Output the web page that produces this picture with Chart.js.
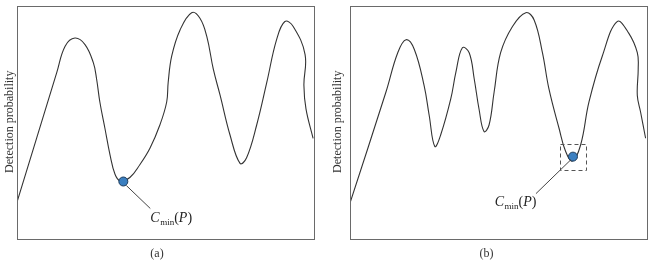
<!DOCTYPE html>
<html>
<head>
<meta charset="utf-8">
<script src="https://cdn.jsdelivr.net/npm/chart.js@4.4.1/dist/chart.umd.min.js"></script>
<style>
  html, body { margin: 0; padding: 0; background: #fff; }
  #wrap { position: relative; width: 652px; height: 263px; }
  canvas { position: absolute; top: 0; }
  #ca { left: 0; }
  #cb { left: 326px; }
</style>
</head>
<body>
<div id="wrap">
  <canvas id="ca" width="326" height="263"></canvas>
  <canvas id="cb" width="326" height="263"></canvas>
</div>
<script>
// ---- Data (axis units 0..100) ----
const captions = ['(a)', '(b)'];
const yAxisLabel = 'Detection probability';

const curveAX = [0, 13.4, 16.2, 19.5, 22.9, 25.7, 26.8, 27.9, 29.6, 31.3, 33.0, 34.7, 38.0, 41.4, 44.8, 48.1, 50.4, 50.9, 52.1, 54.9, 58.8, 61.6, 63.9, 66.1, 68.4, 71.7, 75.1, 77.3, 80.7, 84.1, 87.4, 90.2, 93.0, 97.0, 96.6, 97.3, 99.7];
const curveAY = [15.4, 71.2, 82.5, 86.0, 83.2, 75.4, 68.4, 58.5, 47.2, 35.9, 27.4, 24.6, 26.0, 31.6, 38.7, 48.6, 58.5, 66.9, 78.3, 89.5, 96.9, 94.5, 86.7, 72.6, 61.3, 44.4, 32.1, 34.5, 48.6, 66.9, 85.3, 93.1, 91.0, 78.9, 65.7, 55.5, 42.8];

const curveBX = [0.1, 12.1, 16.1, 18.9, 21.7, 25.0, 26.7, 28.6, 30.6, 34.0, 35.7, 37.9, 40.2, 41.9, 43.5, 45.2, 46.9, 48.6, 50.8, 54.8, 59.3, 62.1, 64.9, 67.1, 70.5, 72.7, 75.0, 77.8, 80.6, 85.1, 90.1, 94.0, 96.9, 97.2, 96.9, 98.0, 99.7];
const curveBY = [15.4, 62.7, 79.7, 85.3, 81.1, 65.5, 52.8, 39.4, 44.4, 59.9, 71.2, 81.8, 79.7, 68.4, 55.6, 45.8, 48.6, 62.7, 79.7, 91.0, 96.9, 93.8, 79.7, 64.1, 47.2, 37.3, 33.1, 40.1, 58.5, 78.3, 93.1, 88.1, 79.7, 72.6, 61.3, 54.2, 42.9];

const cminA = [35.8, 24.3];
const cminB = [75.2, 35.0];

// ---- Plugins ----
const framePlugin = {
  id: 'frame',
  afterDraw(chart) {
    const { ctx, chartArea: a } = chart;
    ctx.save();
    ctx.strokeStyle = '#6a6a6a';
    ctx.lineWidth = 1;
    ctx.strokeRect(Math.round(a.left) + 0.5, Math.round(a.top) + 0.5,
                   Math.round(a.right - a.left), Math.round(a.bottom - a.top));
    ctx.restore();
  }
};

const cminPlugin = {
  id: 'cmin',
  afterDatasetsDraw(chart, args, opts) {
    const el = chart.getDatasetMeta(0).data[0];
    if (!el) return;
    const px = el.x, py = el.y;
    const ctx = chart.ctx;
    ctx.save();
    // dashed box
    if (opts.box) {
      ctx.setLineDash([4, 3]);
      ctx.strokeStyle = '#555';
      ctx.lineWidth = 1;
      const h = opts.box;
      ctx.strokeRect(Math.round(px - h) + 0.5, Math.round(py - h) + 0.5, 2 * h, 2 * h);
      ctx.setLineDash([]);
    }
    // leader line
    ctx.strokeStyle = '#444';
    ctx.lineWidth = 1;
    ctx.beginPath();
    ctx.moveTo(px + opts.from[0], py + opts.from[1]);
    ctx.lineTo(px + opts.to[0], py + opts.to[1]);
    ctx.stroke();
    // label C_min(P)
    const big = '14px "Liberation Serif", "Times New Roman", serif';
    const bigI = 'italic 14px "Liberation Serif", "Times New Roman", serif';
    const small = '9px "Liberation Serif", "Times New Roman", serif';
    const parts = [
      { t: 'C', f: bigI, dy: 0 },
      { t: 'min', f: small, dy: 3 },
      { t: '(', f: big, dy: 0 },
      { t: 'P', f: bigI, dy: 0 },
      { t: ')', f: big, dy: 0 }
    ];
    let total = 0;
    parts.forEach(p => { ctx.font = p.f; p.w = ctx.measureText(p.t).width; total += p.w; });
    let x = px + opts.textX - (opts.anchor === 'right' ? total : 0);
    const base = py + opts.baseline;
    ctx.fillStyle = '#222';
    ctx.textBaseline = 'alphabetic';
    ctx.textAlign = 'left';
    parts.forEach(p => {
      ctx.font = p.f;
      ctx.fillText(p.t, x, base + p.dy);
      x += p.w + (p.t === 'C' ? 0.5 : 0);
    });
    ctx.restore();
  }
};

function makeChart(id, xs, ys, pt, caption, pad, yTitlePad, labelOpts) {
  const curve = xs.map((x, i) => ({ x: x, y: ys[i] }));
  return new Chart(document.getElementById(id), {
    type: 'scatter',
    data: {
      datasets: [
        {
          data: [{ x: pt[0], y: pt[1] }],
          pointRadius: 4.5,
          pointBackgroundColor: '#3b7fc0',
          pointBorderColor: '#1d3c5c',
          pointBorderWidth: 1,
          showLine: false
        },
        {
          data: curve,
          showLine: true,
          borderColor: '#333',
          borderWidth: 1.1,
          pointRadius: 0,
          tension: 0.4,
          fill: false
        }
      ]
    },
    options: {
      responsive: false,
      animation: false,
      devicePixelRatio: 1,
      layout: { padding: pad },
      plugins: {
        legend: { display: false },
        tooltip: { enabled: false },
        title: {
          display: true,
          position: 'bottom',
          text: caption,
          color: '#333',
          font: { family: '"Liberation Serif", "Times New Roman", serif', size: 12, weight: 'normal', lineHeight: 1 },
          padding: { top: 10, bottom: 3 }
        },
        cmin: labelOpts
      },
      scales: {
        x: { type: 'linear', min: 0, max: 100, display: false },
        y: {
          type: 'linear', min: 0, max: 100,
          display: true,
          border: { display: false },
          grid: { display: false, drawTicks: false },
          ticks: { display: false },
          title: {
            display: true,
            text: yAxisLabel,
            color: '#333',
            font: { family: '"Liberation Serif", "Times New Roman", serif', size: 12, lineHeight: 1 },
            padding: yTitlePad
          }
        }
      }
    },
    plugins: [framePlugin, cminPlugin]
  });
}

makeChart('ca', curveAX, curveAY, cminA, captions[0],
  { left: 0, right: 12, top: 2, bottom: 0 }, { top: 4, bottom: 1 },
  { from: [3, 4], to: [27, 27], anchor: 'left', textX: 27, baseline: 40, box: 0 });

makeChart('cb', curveBX, curveBY, cminB, captions[1],
  { left: 0, right: 5, top: 2, bottom: 0 }, { top: 6, bottom: 6 },
  { from: [-2, 3], to: [-37, 37], anchor: 'right', textX: -37, baseline: 49, box: 13 });
</script>
</body>
</html>
